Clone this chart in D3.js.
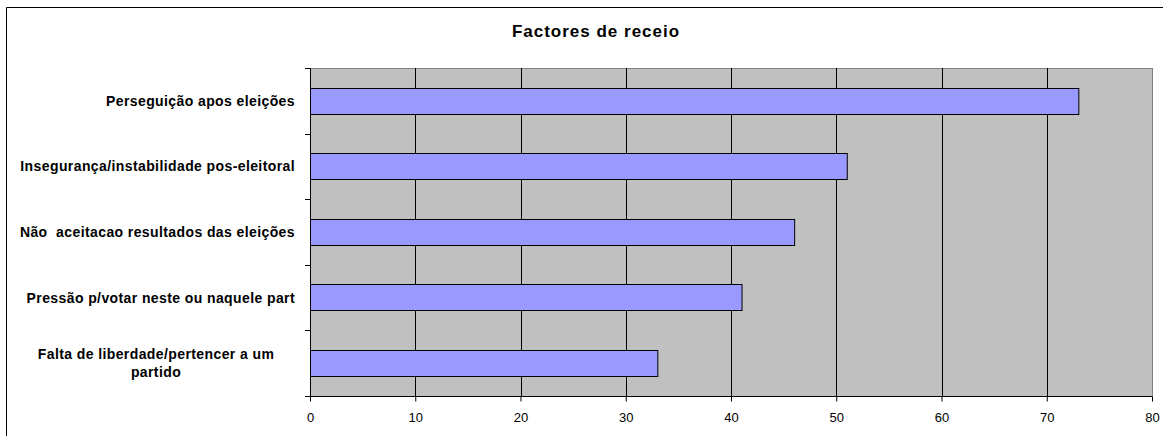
<!DOCTYPE html>
<html>
<head>
<meta charset="utf-8">
<script src="https://cdn.jsdelivr.net/npm/d3@7"></script>
<style>
  html, body { margin: 0; padding: 0; background: #fff; }
  svg { display: block; }
  .cat { white-space: pre; }
</style>
</head>
<body>
<svg id="chart" width="1163" height="436"></svg>
<script>
// Categories (top to bottom) and their values
const categories = [
  ["Perseguição apos eleições"],
  ["Insegurança/instabilidade pos-eleitoral"],
  ["Não  aceitacao resultados das eleições"],
  ["Pressão p/votar neste ou naquele part"],
  ["Falta de liberdade/pertencer a um", "partido"]
];
const values = [73, 51, 46, 41, 33];
const xTicks = [0, 10, 20, 30, 40, 50, 60, 70, 80];
const title = "Factores de receio";

const svg = d3.select("#chart");
const font = "'Liberation Sans', Arial, sans-serif";

// Outer chart frame (extends past the right and bottom edges)
svg.append("path")
  .attr("d", "M6.5,440 V7.5 H1170")
  .attr("fill", "none").attr("stroke", "#000").attr("stroke-width", 1);

const plot = { left: 310, right: 1152, top: 68, bottom: 396 };

const x = d3.scaleLinear().domain([0, 80]).range([plot.left, plot.right]);
const y = d3.scaleBand().domain(d3.range(categories.length))
  .range([plot.top, plot.bottom]).paddingInner(0.6).paddingOuter(0.3);
const yStep = d3.scaleBand().domain(d3.range(categories.length))
  .range([plot.top, plot.bottom]);

// Plot background
svg.append("rect")
  .attr("x", plot.left).attr("y", plot.top)
  .attr("width", plot.right - plot.left).attr("height", plot.bottom - plot.top)
  .attr("fill", "#c0c0c0").attr("stroke", "#808080").attr("stroke-width", 1)
  .attr("shape-rendering", "crispEdges");

// Vertical gridlines
svg.append("g").selectAll("line")
  .data(xTicks.filter(d => d > 0 && d < 80))
  .join("line")
  .attr("x1", d => Math.round(x(d)) + 0.5).attr("x2", d => Math.round(x(d)) + 0.5)
  .attr("y1", plot.top).attr("y2", plot.bottom)
  .attr("stroke", "#000").attr("stroke-width", 1);

// Bars
svg.append("g").selectAll("rect")
  .data(values)
  .join("rect")
  .attr("x", x(0) + 0.5)
  .attr("y", (d, i) => Math.round(y(i)) + 0.5)
  .attr("width", d => x(d) - x(0))
  .attr("height", Math.round(y.bandwidth()))
  .attr("fill", "#9999ff").attr("stroke", "#000").attr("stroke-width", 1);

// X axis
const xAxis = svg.append("g")
  .attr("transform", `translate(0,${plot.bottom + 0.5})`)
  .call(d3.axisBottom(x).tickValues(xTicks).tickSize(5).tickPadding(11).tickFormat(d3.format("d")));
xAxis.attr("font-size", 13).attr("font-family", font);
xAxis.select(".domain").attr("stroke", "#000").attr("d", `M${plot.left - 5},0H${plot.right}`);
xAxis.selectAll(".tick line").attr("stroke", "#000");
xAxis.selectAll("text").attr("fill", "#000");

// Y axis line and ticks at category boundaries
const yb = svg.append("g");
yb.append("line")
  .attr("x1", plot.left + 0.5).attr("x2", plot.left + 0.5)
  .attr("y1", plot.top).attr("y2", plot.bottom)
  .attr("stroke", "#000");
yb.selectAll("line.tk")
  .data(d3.range(categories.length + 1))
  .join("line").attr("class", "tk")
  .attr("x1", plot.left - 5).attr("x2", plot.left)
  .attr("y1", i => Math.round(plot.top + i * yStep.step()) + 0.5)
  .attr("y2", i => Math.round(plot.top + i * yStep.step()) + 0.5)
  .attr("stroke", "#000");

// Category labels
const labels = svg.append("g").selectAll("text")
  .data(categories)
  .join("text")
  .attr("class", "cat")
  .attr("font-family", font).attr("font-size", 14).attr("font-weight", "bold")
  .attr("letter-spacing", 0.4)
  .attr("fill", "#000");
labels.each(function (lines, i) {
  const cy = y(i) + y.bandwidth() / 2;
  const lh = 18;
  const t = d3.select(this);
  const multi = lines.length > 1;
  t.attr("text-anchor", multi ? "middle" : "end");
  lines.forEach((s, k) => {
    t.append("tspan")
      .attr("x", multi ? 156 : 295)
      .attr("y", cy + 5 + (k - (lines.length - 1) / 2) * lh)
      .text(s);
  });
});

// Title
svg.append("text")
  .attr("x", 596).attr("y", 37)
  .attr("text-anchor", "middle")
  .attr("font-family", font).attr("font-size", 17).attr("font-weight", "bold")
  .attr("letter-spacing", 1)
  .text(title);
</script>
</body>
</html>
